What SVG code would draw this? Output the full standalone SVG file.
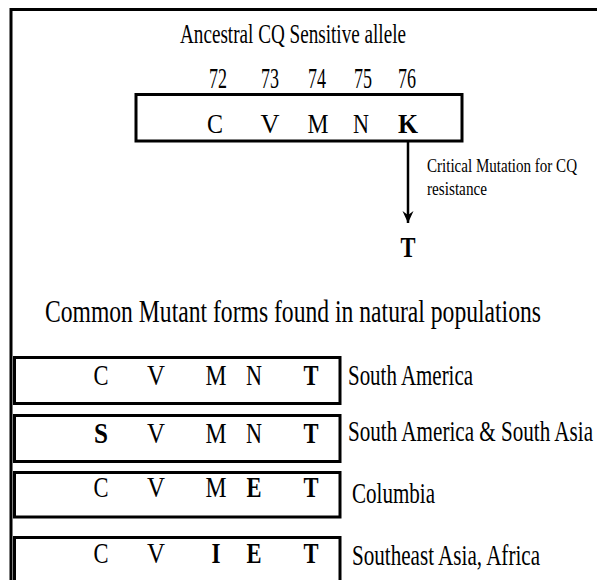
<svg xmlns="http://www.w3.org/2000/svg" width="597" height="580" viewBox="0 0 597 580" font-family="'Liberation Serif', 'Times New Roman', serif">
<style>
text{font-family:"Liberation Serif","Times New Roman",serif;fill:#000}
.m{text-anchor:middle}
.b{font-weight:bold}
.box{fill:#fff;stroke:#000;stroke-width:3}
.ln{stroke:#000;stroke-width:3;fill:none}
</style>
<defs>
<marker id="ah" markerWidth="14" markerHeight="12" refX="13" refY="6" orient="auto" markerUnits="userSpaceOnUse" viewBox="0 0 14 12">
<path d="M13 6 L1 0.5 L5 6 L1 11.5 Z" fill="#000"/>
</marker>
</defs>
<rect width="597" height="580" fill="#fff"/>
<g id="frame">
<path class="ln" d="M11 580 V9.5 H597"/>
</g>
<g id="ancestral">
<text x="180" y="43" font-size="28" textLength="226" lengthAdjust="spacingAndGlyphs">Ancestral CQ Sensitive allele</text>
<g font-size="29">
<text class="m" x="218" y="88" textLength="18" lengthAdjust="spacingAndGlyphs">72</text>
<text class="m" x="270" y="88" textLength="18" lengthAdjust="spacingAndGlyphs">73</text>
<text class="m" x="317" y="88" textLength="18" lengthAdjust="spacingAndGlyphs">74</text>
<text class="m" x="363" y="88" textLength="18" lengthAdjust="spacingAndGlyphs">75</text>
<text class="m" x="407" y="88" textLength="18" lengthAdjust="spacingAndGlyphs">76</text>
</g>
<rect class="box" x="136" y="94.5" width="326" height="46.5"/>
<g font-size="28">
<text class="m" x="215" y="133" textLength="16" lengthAdjust="spacingAndGlyphs">C</text>
<text class="m" x="270" y="133" textLength="19" lengthAdjust="spacingAndGlyphs">V</text>
<text class="m" x="318" y="133" textLength="21" lengthAdjust="spacingAndGlyphs">M</text>
<text class="m" x="361" y="133" textLength="16" lengthAdjust="spacingAndGlyphs">N</text>
<text class="m b" x="408" y="133" textLength="20" lengthAdjust="spacingAndGlyphs">K</text>
</g>
</g>
<g id="connectors">
<line x1="408" y1="142" x2="408" y2="223" stroke="#000" stroke-width="2.5" marker-end="url(#ah)"/>
</g>
<g id="mutation-label">
<text x="427" y="172" font-size="19" textLength="150" lengthAdjust="spacingAndGlyphs">Critical Mutation for CQ</text>
<text x="427" y="195" font-size="19" textLength="60" lengthAdjust="spacingAndGlyphs">resistance</text>
</g>
<g id="mutant-T">
<text class="m b" x="408" y="257" font-size="29" textLength="15" lengthAdjust="spacingAndGlyphs">T</text>
</g>
<g id="heading">
<text x="45" y="322" font-size="31" textLength="496" lengthAdjust="spacingAndGlyphs">Common Mutant forms found in natural populations</text>
</g>
<g id="row1">
<rect class="box" x="14.5" y="357.5" width="325.5" height="46"/>
<g font-size="29">
<text class="m" x="101" y="385" textLength="15" lengthAdjust="spacingAndGlyphs">C</text>
<text class="m" x="156" y="385" textLength="18" lengthAdjust="spacingAndGlyphs">V</text>
<text class="m" x="216" y="385" textLength="21" lengthAdjust="spacingAndGlyphs">M</text>
<text class="m" x="254" y="385" textLength="16" lengthAdjust="spacingAndGlyphs">N</text>
<text class="m b" x="311" y="385" textLength="15" lengthAdjust="spacingAndGlyphs">T</text>
</g>
<text x="348" y="385" font-size="29" textLength="125" lengthAdjust="spacingAndGlyphs">South America</text>
</g>
<g id="row2">
<rect class="box" x="14.5" y="415.5" width="325.5" height="46"/>
<g font-size="29">
<text class="m b" x="101" y="443" textLength="14" lengthAdjust="spacingAndGlyphs">S</text>
<text class="m" x="156" y="443" textLength="18" lengthAdjust="spacingAndGlyphs">V</text>
<text class="m" x="216" y="443" textLength="21" lengthAdjust="spacingAndGlyphs">M</text>
<text class="m" x="254" y="443" textLength="16" lengthAdjust="spacingAndGlyphs">N</text>
<text class="m b" x="311" y="443" textLength="15" lengthAdjust="spacingAndGlyphs">T</text>
</g>
<text x="348" y="441" font-size="29" textLength="245" lengthAdjust="spacingAndGlyphs">South America &amp; South Asia</text>
</g>
<g id="row3">
<rect class="box" x="14.5" y="472.5" width="325.5" height="44.5"/>
<g font-size="29">
<text class="m" x="101" y="497" textLength="15" lengthAdjust="spacingAndGlyphs">C</text>
<text class="m" x="156" y="497" textLength="18" lengthAdjust="spacingAndGlyphs">V</text>
<text class="m" x="216" y="497" textLength="21" lengthAdjust="spacingAndGlyphs">M</text>
<text class="m b" x="254" y="497" textLength="15" lengthAdjust="spacingAndGlyphs">E</text>
<text class="m b" x="311" y="497" textLength="15" lengthAdjust="spacingAndGlyphs">T</text>
</g>
<text x="352" y="503" font-size="29" textLength="83" lengthAdjust="spacingAndGlyphs">Columbia</text>
</g>
<g id="row4">
<rect class="box" x="14.5" y="537.5" width="325.5" height="50"/>
<g font-size="29">
<text class="m" x="101" y="563" textLength="15" lengthAdjust="spacingAndGlyphs">C</text>
<text class="m" x="156" y="563" textLength="18" lengthAdjust="spacingAndGlyphs">V</text>
<text class="m b" x="216" y="563" textLength="9" lengthAdjust="spacingAndGlyphs">I</text>
<text class="m b" x="254" y="563" textLength="15" lengthAdjust="spacingAndGlyphs">E</text>
<text class="m b" x="311" y="563" textLength="15" lengthAdjust="spacingAndGlyphs">T</text>
</g>
<text x="352" y="565" font-size="29" textLength="188" lengthAdjust="spacingAndGlyphs">Southeast Asia, Africa</text>
</g>
</svg>
